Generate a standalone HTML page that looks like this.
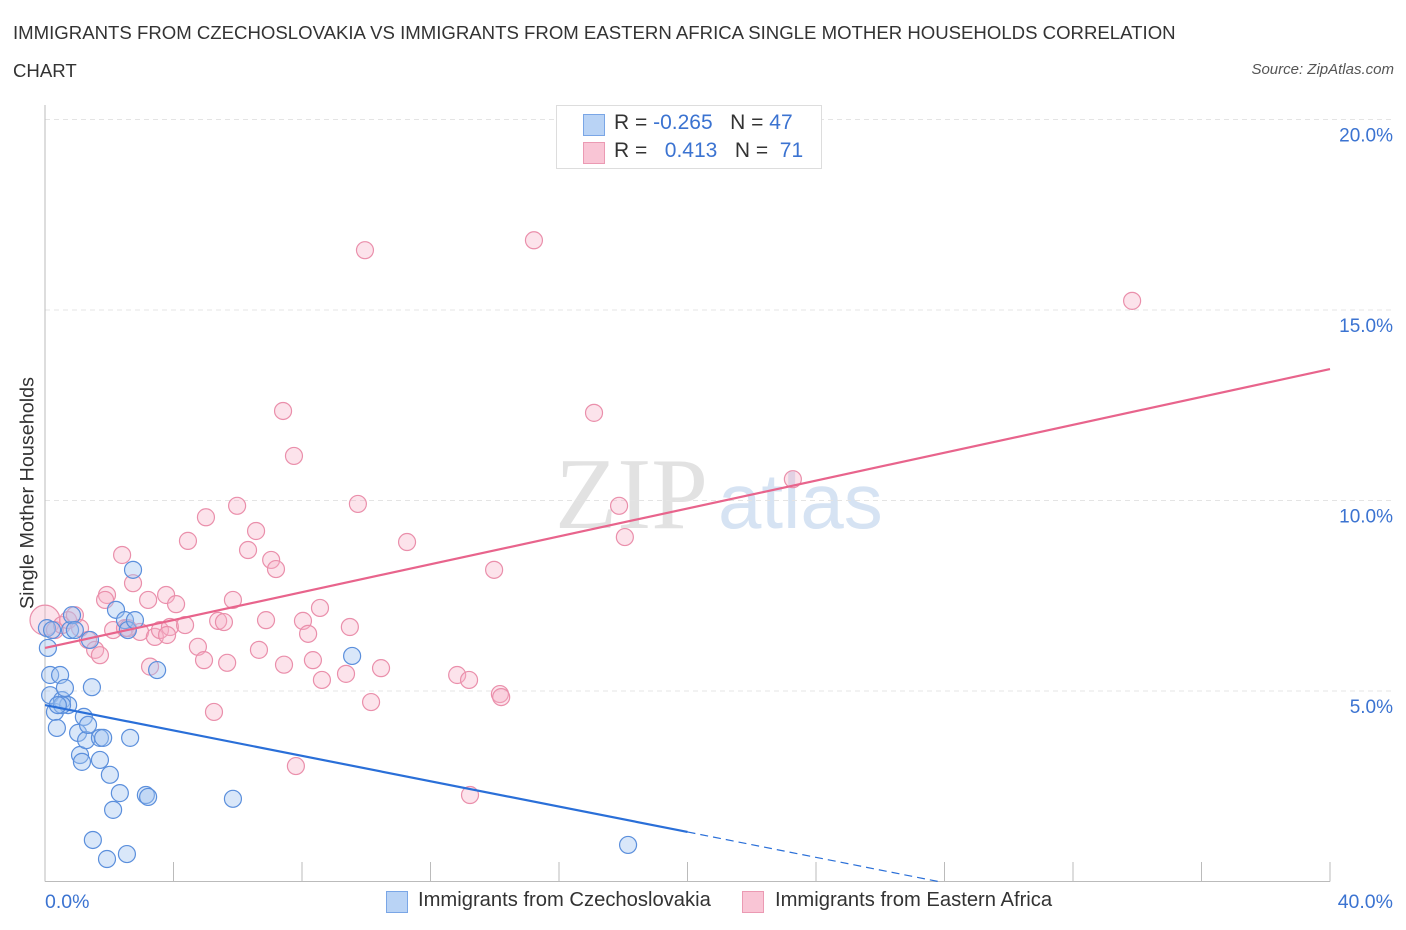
<!DOCTYPE html>
<html><head><meta charset="utf-8"><style>
body{margin:0;background:#fff;font-family:"Liberation Sans",sans-serif;}
#wrap{position:relative;width:1406px;height:930px;overflow:hidden;}
.t{position:absolute;white-space:nowrap;}
</style></head><body>
<div id="wrap">
<div class="t" style="left:13px;top:14px;font-size:18.6px;color:#333;line-height:38px;">IMMIGRANTS FROM CZECHOSLOVAKIA VS IMMIGRANTS FROM EASTERN AFRICA SINGLE MOTHER HOUSEHOLDS CORRELATION<br>CHART</div>
<div class="t" style="right:12px;top:61px;font-size:15px;color:#555;font-style:italic;">Source: ZipAtlas.com</div>
<svg id="chart" width="1406" height="930" style="position:absolute;left:0;top:0"></svg>
<div class="t" style="left:28px;top:493px;font-size:19.8px;color:#333;transform:translate(-50%,-50%) rotate(-90deg);">Single Mother Households</div>
<div style="position:absolute;left:556px;top:105px;width:264px;height:62px;border:1px solid #ddd;background:#fff;font-size:21px;">
 <div style="position:absolute;left:26px;top:8px;width:20px;height:20px;background:#b9d3f5;border:1px solid #7aa6e6;"></div>
 <div class="t" style="left:57px;top:5px;color:#333;">R = <span style="color:#3b73d1">-0.265</span>&nbsp;&nbsp;&nbsp;N = <span style="color:#3b73d1">47</span></div>
 <div style="position:absolute;left:26px;top:36px;width:20px;height:20px;background:#f9c5d5;border:1px solid #eb9ab3;"></div>
 <div class="t" style="left:57px;top:33px;color:#333;">R = &nbsp;&nbsp;<span style="color:#3b73d1">0.413</span>&nbsp;&nbsp;&nbsp;N = &nbsp;<span style="color:#3b73d1">71</span></div>
</div>
<div>
 <div style="position:absolute;left:386px;top:891px;width:20px;height:20px;background:#b9d3f5;border:1px solid #7aa6e6;"></div>
 <div class="t" style="left:418px;top:889px;font-size:20.2px;color:#333;">Immigrants from Czechoslovakia</div>
 <div style="position:absolute;left:742px;top:891px;width:20px;height:20px;background:#f9c5d5;border:1px solid #eb9ab3;"></div>
 <div class="t" style="left:775px;top:889px;font-size:20.2px;color:#333;">Immigrants from Eastern Africa</div>
</div>
</div>
<script>
const xTickLabels=["0.0%","40.0%"];
const yTicks=[5,10,15,20];
const yTickLabels=["5.0%","10.0%","15.0%","20.0%"];
const czechX=[0.06,0.16,0.16,0.31,0.37,0.47,0.53,0.62,0.72,0.78,0.84,0.93,1.03,1.09,1.15,1.21,1.28,1.34,1.40,1.46,1.49,1.71,1.71,1.81,1.93,2.02,2.12,2.21,2.33,2.49,2.55,2.58,2.65,2.74,2.80,3.14,3.21,3.49,5.85,9.56,18.15,0.53,0.09,0.22,0.40];
const czechY=[6.65,5.42,4.89,4.45,4.03,5.42,4.76,5.08,4.63,6.60,6.99,6.60,3.90,3.32,3.14,4.32,3.71,4.11,6.34,5.10,1.09,3.77,3.19,3.77,0.59,2.80,1.88,7.13,2.32,6.86,0.72,6.60,3.77,8.18,6.86,2.27,2.22,5.55,2.17,5.92,0.96,4.63,6.13,6.60,4.63];
const eafX=[0,0.31,0.53,0.72,0.93,1.09,1.34,1.56,1.71,1.93,2.12,2.40,2.49,2.74,2.96,3.21,3.27,3.42,3.58,3.77,3.89,4.08,4.36,4.45,4.76,4.95,5.01,5.26,5.39,5.57,5.67,5.85,5.98,6.32,6.57,6.66,6.88,7.04,7.19,7.41,7.44,7.75,7.81,8.03,8.19,8.34,8.56,8.62,9.37,9.49,9.74,9.96,10.15,10.46,11.27,12.83,13.20,13.98,14.16,14.20,13.23,15.22,17.09,17.87,18.05,23.28,33.84,1.87,2.58,3.80];
const eafY=[6.86,6.60,6.73,6.86,6.99,6.65,6.34,6.08,5.94,7.52,6.60,8.57,6.65,7.83,6.55,7.39,5.64,6.42,6.60,7.52,6.68,7.28,6.73,8.94,6.16,5.81,9.56,4.45,6.84,6.81,5.74,7.39,9.86,8.70,9.20,6.08,6.86,8.44,8.20,12.35,5.69,11.17,3.03,6.84,6.50,5.81,7.18,5.29,5.45,6.68,9.91,16.57,4.71,5.60,8.91,5.42,5.29,8.18,4.92,4.84,2.27,16.83,12.30,9.86,9.04,10.56,15.24,7.39,6.65,6.47];
const czechTrend=[4.63,-2.03];
const eafTrend=[6.13,13.45];
const NS="http://www.w3.org/2000/svg";
const svg=document.getElementById('chart');
const X=v=>45+v/40*1285;
const Y=v=>881.5-v/5*190.5;
function mk(t,a){const e=document.createElementNS(NS,t);for(const k in a)e.setAttribute(k,a[k]);svg.appendChild(e);return e;}
let wm=mk('text',{x:555,y:528,'font-size':102,fill:'#e2e2e2','font-family':'Liberation Serif'});wm.textContent='ZIP';


let wm2=mk('text',{x:718,y:528,'font-size':78,fill:'#d6e3f3','font-family':'Liberation Sans'});wm2.textContent='atlas';


yTicks.forEach((v,i)=>{
 const g=mk('line',{x1:45,x2:1392,y1:Y(v),y2:Y(v),stroke:'#e4e4e4','stroke-dasharray':'5,4'});
 
 
 const t=mk('text',{x:1393,y:Y(v)+22,'text-anchor':'end','font-size':19,fill:'#3b73d1'});
 t.textContent=yTickLabels[i];
 
 
});
const ax=mk('line',{x1:45,x2:1330,y1:881.5,y2:881.5,stroke:'#bbb'});


const ay=mk('line',{x1:45,x2:45,y1:105,y2:881.5,stroke:'#bbb'});


for(let i=0;i<=10;i++){
 const tk=mk('line',{x1:X(i*4),x2:X(i*4),y1:862,y2:881.5,stroke:'#bbb'});
 
 
}
const xl0=mk('text',{x:45,y:908,'font-size':19.5,fill:'#3b73d1'});xl0.textContent=xTickLabels[0];


const xl1=mk('text',{x:1393,y:908,'text-anchor':'end','font-size':19.5,fill:'#3b73d1'});xl1.textContent=xTickLabels[1];


eafX.forEach((x,i)=>{
 const c=mk('circle',{cx:X(x),cy:Y(eafY[i]),r:i===0?15:8.5,fill:'rgba(246,175,198,0.35)',stroke:'#ea8fab','stroke-width':1.2});
 
 
});
czechX.forEach((x,i)=>{
 const c=mk('circle',{cx:X(x),cy:Y(czechY[i]),r:8.5,fill:'rgba(160,195,240,0.4)',stroke:'#5b8fdc','stroke-width':1.2});
 
 
});
const pl=mk('line',{x1:X(0),y1:Y(eafTrend[0]),x2:X(40),y2:Y(eafTrend[1]),stroke:'#e8648c','stroke-width':2.2});


const bAt=x=>czechTrend[0]+(czechTrend[1]-czechTrend[0])*x/40;
const bl=mk('line',{x1:X(0),y1:Y(bAt(0)),x2:X(20),y2:Y(bAt(20)),stroke:'#2a6fd8','stroke-width':2.2});


const xEnd=-czechTrend[0]/(czechTrend[1]-czechTrend[0])*40;
const bd=mk('line',{x1:X(20),y1:Y(bAt(20)),x2:X(xEnd),y2:Y(0),stroke:'#2a6fd8','stroke-width':1.2,'stroke-dasharray':'8,5'});


</script>
</body></html>
